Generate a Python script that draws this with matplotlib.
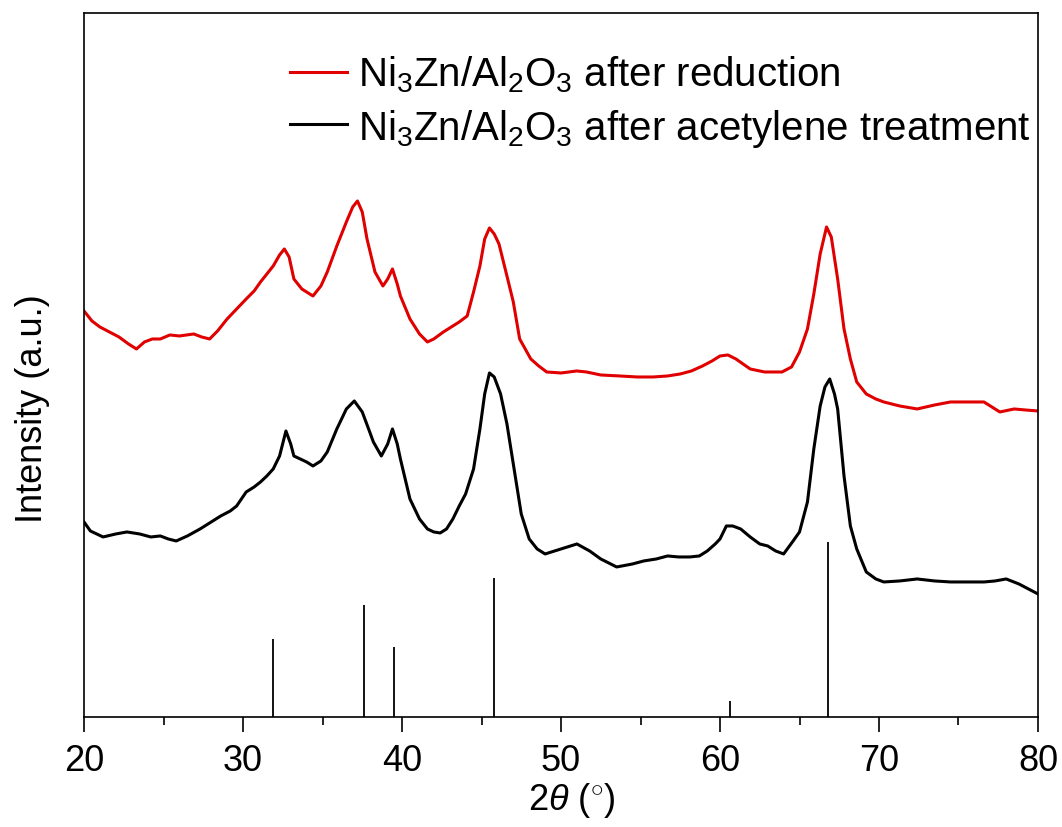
import numpy as np
import matplotlib
matplotlib.use("Agg")
import matplotlib.pyplot as plt
from matplotlib.ticker import MultipleLocator

# --- DATA ---
# Ni3Zn/Al2O3 after reduction (offset trace), 2theta and intensity (a.u.)
red_2theta = [20.0, 20.5, 21.0, 21.6, 22.2, 22.8, 23.3, 23.8, 24.3, 24.8, 25.4, 26.0, 26.9, 27.4,
              27.9, 28.4, 29.0, 29.6, 30.2, 30.7, 31.1, 31.5, 31.9, 32.3, 32.6, 32.9, 33.2, 33.7,
              34.4, 34.9, 35.3, 35.9, 36.5, 36.9, 37.2, 37.5, 37.8, 38.3, 38.8, 39.1, 39.4, 39.7,
              39.9, 40.5, 41.1, 41.6, 42.0, 42.6, 43.2, 43.6, 44.1, 44.5, 44.9, 45.2, 45.5, 45.8,
              46.1, 46.6, 47.0, 47.4, 48.1, 48.6, 49.1, 50.0, 51.0, 51.6, 52.5, 53.7, 54.8, 55.8,
              56.7, 57.5, 58.2, 58.9, 59.5, 60.0, 60.5, 61.0, 61.9, 62.8, 63.9, 64.5, 65.0, 65.5,
              65.9, 66.3, 66.7, 67.0, 67.4, 67.8, 68.2, 68.6, 69.2, 69.8, 70.3, 71.3, 72.4, 73.5,
              74.5, 75.5, 76.6, 77.6, 78.5, 79.2, 80.0]
red_int = [406, 396, 390, 385, 380, 373, 368, 375, 378, 378, 382, 381, 383, 380,
           378, 386, 398, 408, 418, 426, 435, 443, 451, 462, 468, 460, 438, 428,
           421, 431, 445, 471, 495, 510, 516, 505, 478, 445, 431, 438, 448, 433,
           421, 398, 383, 375, 378, 385, 391, 395, 401, 425, 451, 478, 489, 483,
           473, 441, 415, 378, 358, 351, 345, 344, 346, 345, 342, 341, 340, 340,
           341, 343, 346, 351, 356, 361, 362, 358, 348, 345, 345, 350, 365, 388,
           423, 463, 490, 480, 438, 388, 358, 335, 323, 318, 315, 311, 308, 312,
           315, 315, 315, 305, 308, 307, 306]

# Ni3Zn/Al2O3 after acetylene treatment
black_2theta = [20.0, 20.4, 21.2, 22.0, 22.7, 23.5, 24.2, 24.8, 25.3, 25.8, 26.5, 27.3, 28.0, 28.6,
                29.2, 29.6, 30.2, 30.7, 31.1, 31.5, 31.9, 32.3, 32.7, 33.0, 33.2, 33.6, 34.0, 34.4,
                34.9, 35.3, 35.9, 36.5, 37.0, 37.5, 37.9, 38.2, 38.7, 39.1, 39.4, 39.7, 39.9, 40.5,
                41.1, 41.6, 42.0, 42.4, 42.8, 43.2, 43.6, 44.0, 44.5, 44.9, 45.2, 45.5, 45.8, 46.2,
                46.6, 47.0, 47.5, 48.0, 48.5, 49.0, 50.0, 51.0, 51.8, 52.5, 53.5, 54.5, 55.2, 56.0,
                56.7, 57.4, 58.1, 58.7, 59.2, 59.7, 60.0, 60.4, 60.8, 61.3, 61.9, 62.5, 63.0, 63.5,
                64.0, 64.6, 65.0, 65.5, 65.9, 66.3, 66.6, 66.9, 67.2, 67.4, 67.8, 68.2, 68.6, 69.2,
                69.8, 70.3, 71.3, 72.4, 73.5, 74.5, 75.5, 76.6, 77.3, 78.0, 78.8, 79.4, 80.0]
black_int = [195, 186, 180, 183, 185, 183, 180, 181, 178, 176, 181, 188, 195, 201,
             206, 211, 225, 230, 235, 241, 248, 261, 286, 273, 261, 258, 255, 251,
             256, 265, 288, 308, 316, 305, 288, 275, 261, 273, 288, 273, 258, 218,
             198, 188, 185, 184, 188, 198, 211, 223, 248, 288, 323, 344, 340, 323,
             293, 253, 203, 178, 168, 163, 168, 173, 166, 158, 150, 153, 156, 158,
             161, 160, 160, 161, 166, 173, 178, 191, 191, 188, 180, 173, 171, 166,
             163, 176, 185, 215, 268, 311, 330, 338, 323, 308, 241, 191, 168, 145,
             138, 135, 136, 138, 136, 135, 135, 135, 136, 138, 133, 128, 123]

# reference stick pattern (Ni3Zn)
ref_2theta = [31.9, 37.6, 39.5, 45.8, 60.6, 66.8]
ref_int = [78, 112, 70, 139, 16, 175]

labels = [r"Ni$_3$Zn/Al$_2$O$_3$ after reduction",
          r"Ni$_3$Zn/Al$_2$O$_3$ after acetylene treatment"]

# --- STYLE ---
plt.rcParams["font.family"] = ["Liberation Sans", "DejaVu Sans"]
plt.rcParams["mathtext.fontset"] = "custom"
plt.rcParams["mathtext.rm"] = "Liberation Sans"
plt.rcParams["mathtext.it"] = "Liberation Sans:italic"

fig = plt.figure(figsize=(10.62, 8.28), dpi=100)
ax = fig.add_axes([0.0791, 0.1329, 0.8983, 0.8502])

ax.plot(red_2theta, red_int, color="#e00000", lw=2.2, label=labels[0])
ax.plot(black_2theta, black_int, color="black", lw=2.2, label=labels[1])
ax.vlines(ref_2theta, 0, ref_int, color="black", lw=1.3)

ax.set_xlim(20, 80)
ax.set_ylim(0, 704)
ax.xaxis.set_major_locator(MultipleLocator(10))
ax.xaxis.set_minor_locator(MultipleLocator(5))
ax.set_yticks([])
ax.tick_params(axis="x", which="major", direction="out", length=11, width=1.2,
               labelsize=26, pad=8, top=False)
ax.tick_params(axis="x", which="minor", direction="out", length=6, width=1.2, top=False)
for sp in ax.spines.values():
    sp.set_linewidth(1.2)

ax.set_xlabel(r"2$\mathit{\theta}$ ($^{\circ}$)", fontsize=26, labelpad=6)
ax.xaxis.set_label_coords(0.511, -0.09)
ax.set_ylabel("Intensity (a.u.)", fontsize=26)
ax.yaxis.set_label_coords(-0.036, 0.44)

ax.legend(loc="upper left", bbox_to_anchor=(0.216, 0.942), frameon=False,
          fontsize=29, handlelength=1.42, handletextpad=0.26, labelspacing=0.3,
          borderpad=0, borderaxespad=0)

fig.savefig("out.png", dpi=100)
